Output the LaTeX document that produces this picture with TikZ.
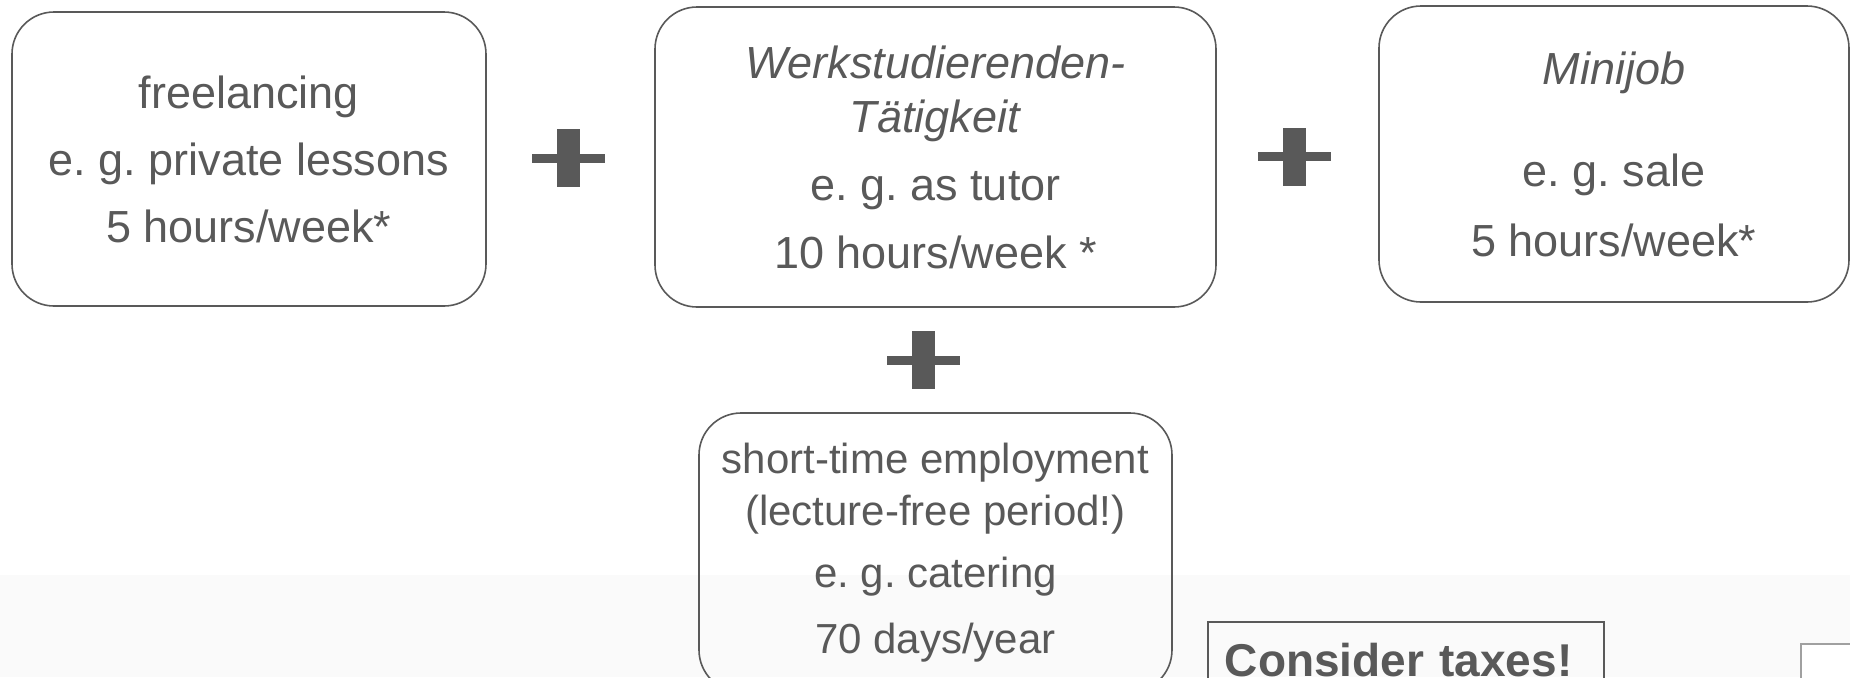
\documentclass[tikz,border=0pt]{standalone}
\usepackage{fontspec}
\setmainfont{Liberation Sans}
\frenchspacing
\usetikzlibrary{positioning}
\definecolor{jobgray}{HTML}{595959}
\definecolor{bandgray}{HTML}{FAFAFA}
\definecolor{edgegray}{HTML}{A0A0A0}

\begin{document}
\begin{tikzpicture}[x=0.1mm,y=-0.1mm,line width=0.16mm,
  jobbox/.style={draw=jobgray,rounded corners=4.2mm,inner sep=0pt,align=center,text=jobgray},
  plusbar/.style={fill=jobgray,inner sep=0pt,minimum width=2.3mm,minimum height=5.8mm},
  plusarm/.style={fill=jobgray,inner sep=0pt,minimum width=7.3mm,minimum height=0.9mm}]
\useasboundingbox (0,0) rectangle (1850,677);
% ---------- light band at the bottom ----------
\fill[bandgray] (0,575) rectangle (1850,677);
% ---------- job boxes ----------
\node[jobbox,minimum width=47.4mm,minimum height=29.4mm,
  font=\fontsize{12.8}{19.05}\selectfont] (free) at (249,159)
  {freelancing\\e. g. private lessons\\5 hours/week*};
\node[jobbox,minimum width=56.1mm,minimum height=30mm,
  font=\fontsize{12.8}{15.36}\selectfont] (werk) at (935.5,157)
  {\textit{Werkstudierenden-}\\\textit{Tätigkeit}\\[1.4mm]e. g. as tutor\\[1.4mm]10 hours/week *};
\node[jobbox,minimum width=47mm,minimum height=29.6mm,
  font=\fontsize{12.8}{19.9}\selectfont] (mini) at (1614,154)
  {\textit{Minijob}\\[3.2mm]e. g. sale\\5 hours/week*};
\node[jobbox,minimum width=47.3mm,minimum height=27.9mm,
  font=\fontsize{11.95}{14.79}\selectfont] (short) at (935.5,552.5)
  {short-time employment\\(lecture-free period!)\\[1mm]e. g. catering\\[1.4mm]70 days/year};
% ---------- plus signs ----------
\node[plusbar] (plusA) at (568.5,158) {};
\node[plusarm] at (plusA) {};
\node[plusbar] (plusB) at (1294.5,156.5) {};
\node[plusarm] at (plusB) {};
\node[plusbar] (plusC) at (923.5,360) {};
\node[plusarm] at (plusC) {};
% ---------- tax note ----------
\node[draw=jobgray,anchor=north west,inner xsep=1.7mm,inner ysep=2.1mm,text=jobgray,
  text width=36.2mm,align=left,
  font=\fontsize{13.09}{15}\selectfont\bfseries] (taxes) at (1207,621) {Consider taxes!};
% ---------- box cut off at the corner ----------
\node[draw=edgegray,fill=white,anchor=north west,minimum width=8mm,minimum height=6mm] (corner) at (1800,643) {};
\end{tikzpicture}
\end{document}
